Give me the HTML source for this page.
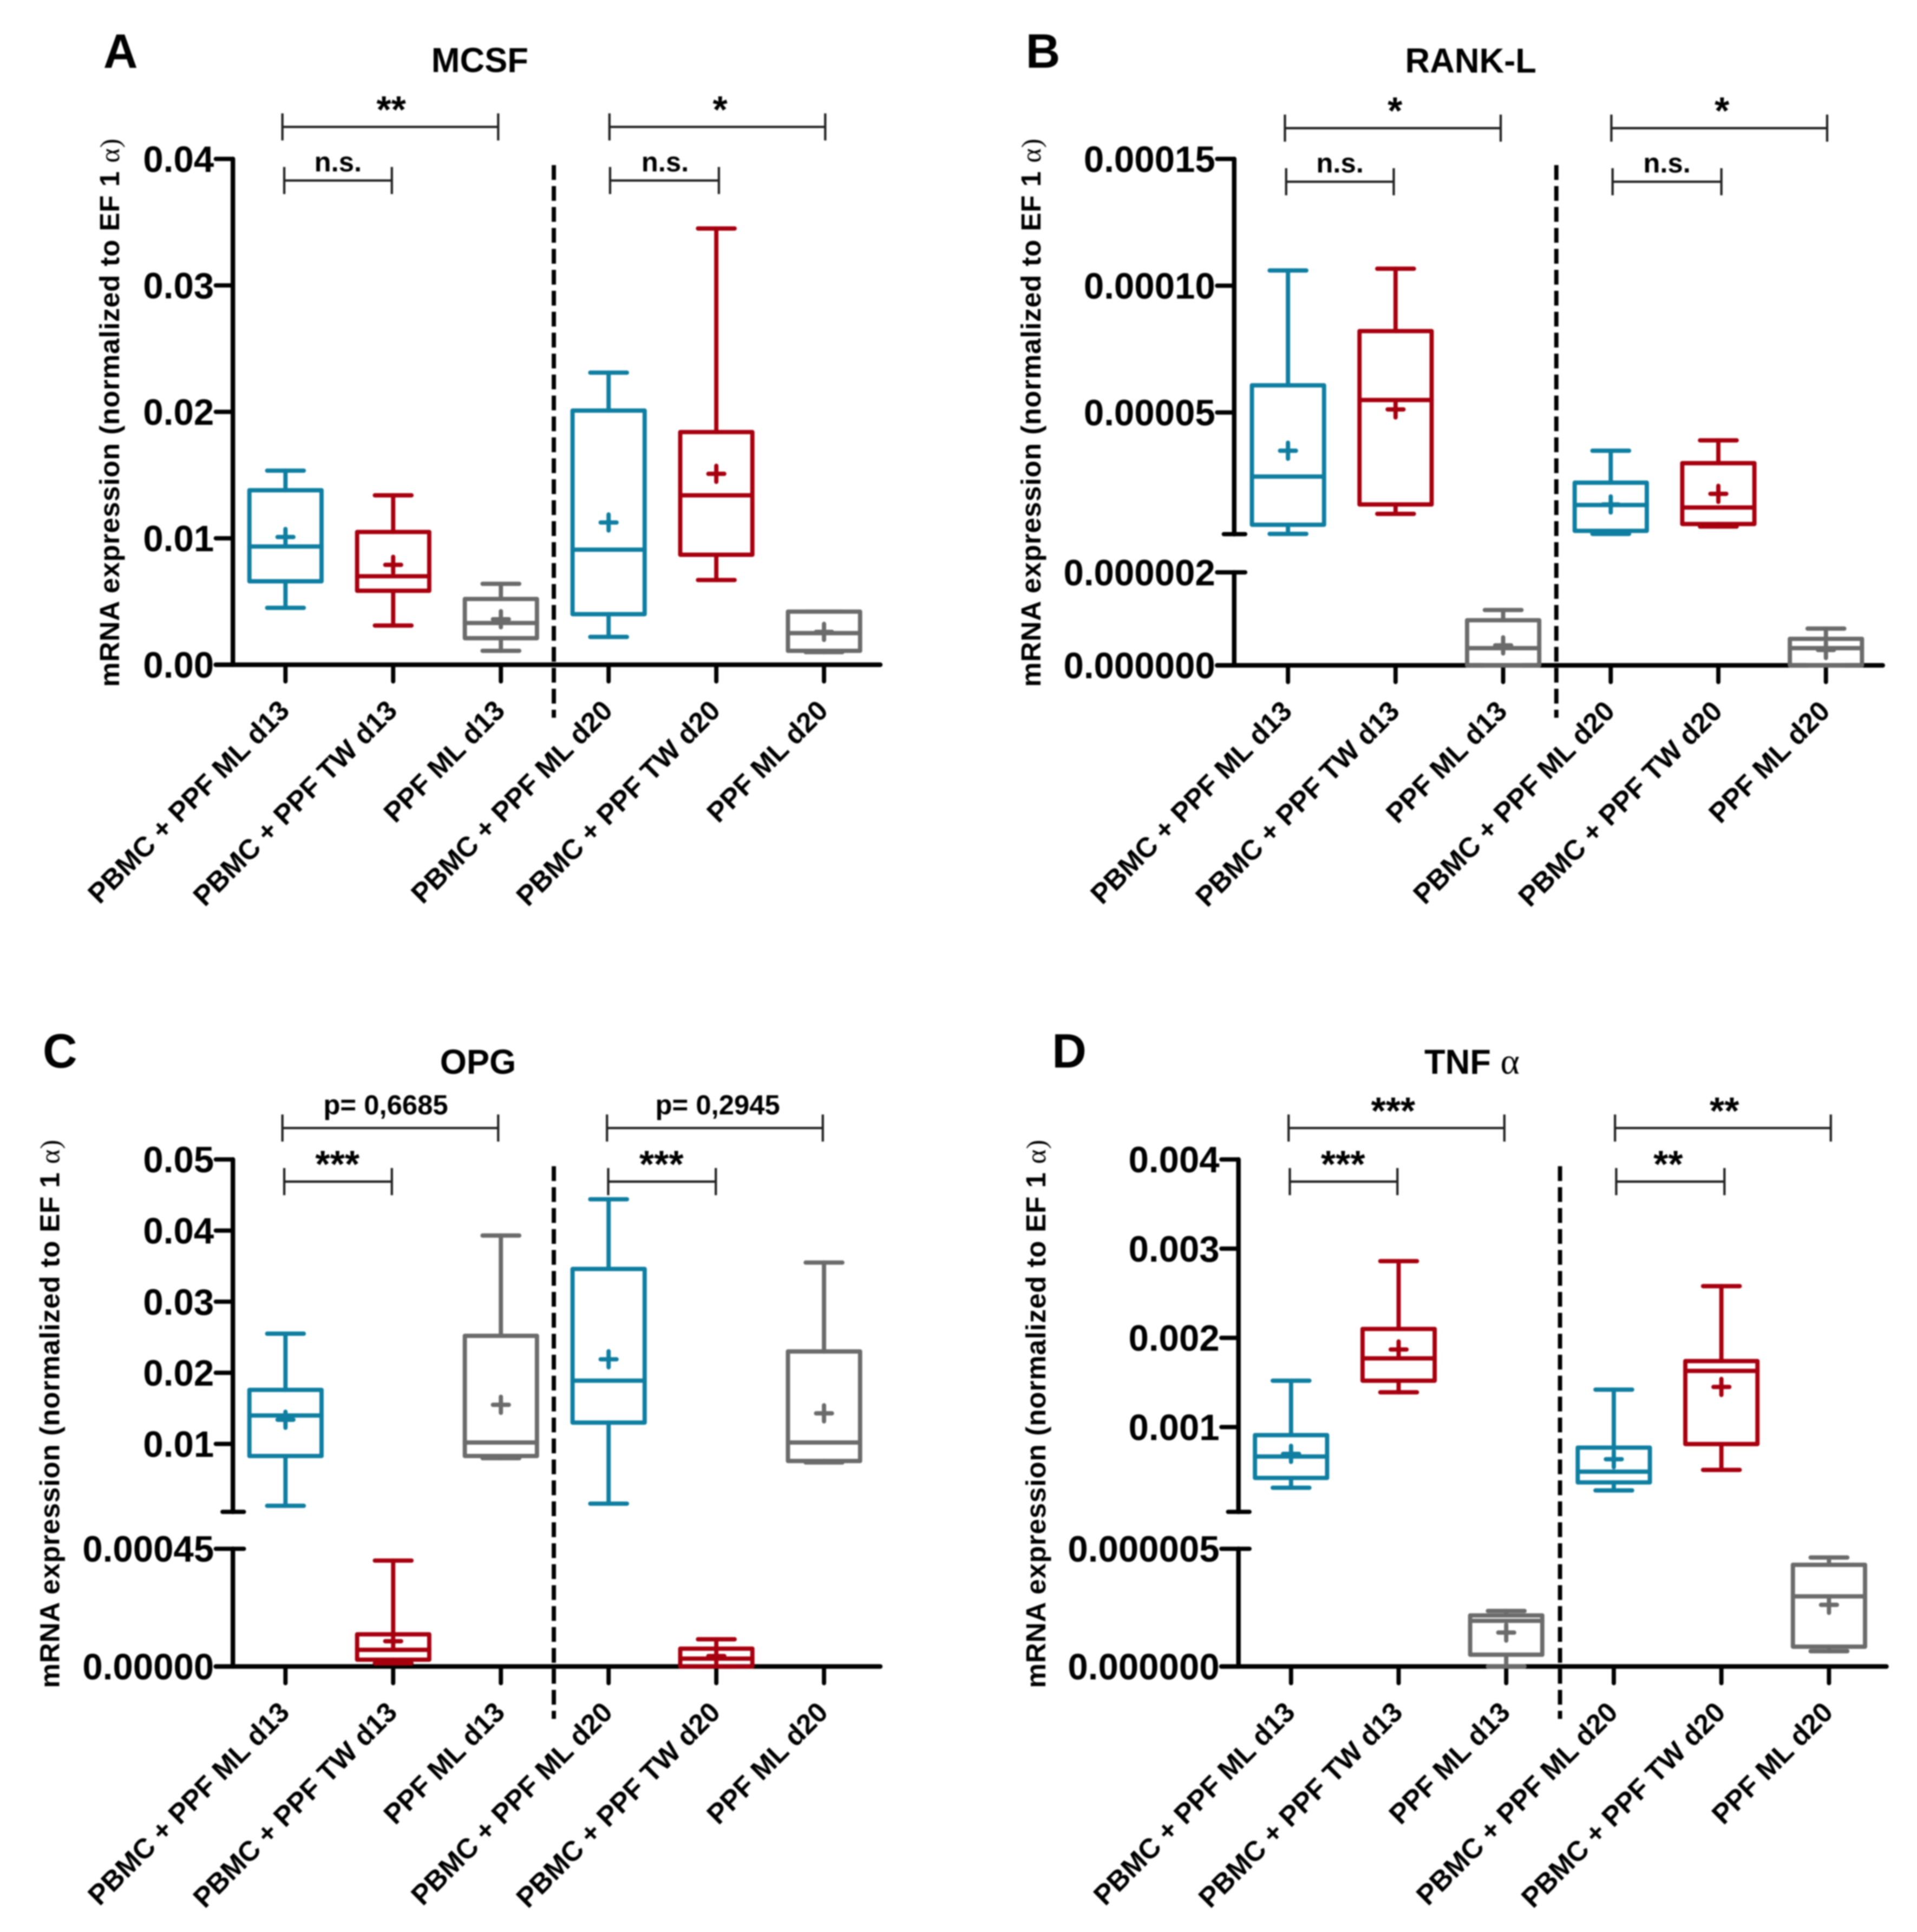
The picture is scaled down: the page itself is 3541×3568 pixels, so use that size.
<!DOCTYPE html>
<html lang="en">
<head>
<meta charset="utf-8">
<title>mRNA expression box plots</title>
<style>
html,body{margin:0;padding:0;background:#fff}
svg{display:block;width:3541px;height:3568px;filter:blur(1.2px)}
text{font-family:"Liberation Sans",sans-serif;font-weight:bold;fill:#000}
.alpha{font-family:"Liberation Serif",serif;font-weight:normal}
</style>
</head>
<body>
<svg id="figure" xmlns="http://www.w3.org/2000/svg" viewBox="0 0 3136 3136" preserveAspectRatio="none"></svg>
<script>
const categories = ['PBMC + PPF ML d13','PBMC + PPF TW d13','PPF ML d13','PBMC + PPF ML d20','PBMC + PPF TW d20','PPF ML d20'];
const seriesColors = ['#0f7ea0','#a6000f','#6b6b6b','#0f7ea0','#a6000f','#6b6b6b'];

const mcsfHigh   = [0.01535,0.0134,0.0064,0.0231,0.0345,0.0042];
const mcsfQ3     = [0.0138,0.0105,0.0052,0.0201,0.0184,0.0042];
const mcsfMedian = [0.00935,0.0070,0.0033,0.0091,0.0134,0.0025];
const mcsfQ1     = [0.0066,0.00585,0.0021,0.0040,0.0087,0.0011];
const mcsfLow    = [0.0045,0.0031,0.0011,0.0022,0.0067,0.0010];
const mcsfMean   = [0.0101,0.0079,0.0036,0.01125,0.0151,0.0026];
const mcsfTicks  = [0,0.01,0.02,0.03,0.04];
const mcsfTickLabels = ['0.00','0.01','0.02','0.03','0.04'];

const ranklHigh   = [0.000106,0.0001067,0.00000119,0.0000349,0.000039,0.00000079];
const ranklQ3     = [0.0000607,0.0000821,0.00000097,0.0000223,0.00003,0.00000057];
const ranklMedian = [0.0000247,0.0000549,0.00000037,0.0000135,0.0000125,0.00000037];
const ranklQ1     = [0.0000057,0.0000137,0,0.0000033,0.000006,0];
const ranklLow    = [0.0000021,0.00001,0,0.0000021,0.000005,0];
const ranklMean   = [0.0000349,0.0000512,0.00000043,0.0000137,0.0000179,0.00000033];
const ranklTicks  = [0,0.000002,0.00005,0.0001,0.00015];
const ranklTickLabels = ['0.000000','0.000002','0.00005','0.00010','0.00015'];

const opgHigh   = [0.0255,0.000405,0.0393,0.0444,0.000104,0.0355];
const opgQ3     = [0.0176,0.000123,0.0252,0.0346,0.000068,0.023];
const opgMedian = [0.014,0.0000636,0.0102,0.0189,0.00003,0.0102];
const opgQ1     = [0.0083,0.000026,0.0083,0.013,0,0.0076];
const opgLow    = [0.0013,0.000012,0.008,0.0016,0,0.0074];
const opgMean   = [0.0134,0.0000966,0.0155,0.0219,0.00004,0.0143];
const opgTicks  = [0,0.00045,0.01,0.02,0.03,0.04,0.05];
const opgTickLabels = ['0.00000','0.00045','0.01','0.02','0.03','0.04','0.05'];

const tnfHigh   = [0.00152,0.00286,0.00000236,0.00142,0.00258,0.00000463];
const tnfQ3     = [0.00091,0.0021,0.00000217,0.00077,0.00174,0.00000432];
const tnfMedian = [0.00067,0.00177,0.00000194,0.0005,0.00163,0.00000298];
const tnfQ1     = [0.00043,0.00152,0.0000005,0.00038,0.00081,0.00000084];
const tnfLow    = [0.00032,0.00139,0,0.00029,0.00052,0.00000065];
const tnfMean   = [0.0007,0.00187,0.00000144,0.00064,0.00145,0.00000262];
const tnfTicks  = [0,0.000005,0.001,0.002,0.003,0.004];
const tnfTickLabels = ['0.000000','0.000005','0.001','0.002','0.003','0.004'];

const panels = [
 {id:'a',ox:0,oy:0,letter:'A',lx:169,ly:110,title:'MCSF',tx:785,ty:117,alpha:false,axisX:381,xEnd:1440,cat0:467,step:176.2,
  segs:[{d:[0,0.04],r:[1079,258]}],
  hi:mcsfHigh,q3:mcsfQ3,med:mcsfMedian,q1:mcsfQ1,lo:mcsfLow,mean:mcsfMean,ticks:mcsfTicks,labels:mcsfTickLabels,
  yTitleX:195,yTitleBottom:1115,dashX:906,dash:[268,1165],
  brackets:[[462,815,206,'**',640,-7],[997,1350,206,'*',1178,-7],[465,641,293,'n.s.',553,-15],[998,1176,293,'n.s.',1088,-15]]},
 {id:'b',ox:1568,oy:0,letter:'B',lx:110,ly:110,title:'RANK-L',tx:838,ty:118,alpha:false,axisX:451,xEnd:1512,cat0:539,step:176,
  segs:[{d:[0,0.000002],r:[1080,929]},{d:[0.000002,0.00015],r:[867,258]}],
  hi:ranklHigh,q3:ranklQ3,med:ranklMedian,q1:ranklQ1,lo:ranklLow,mean:ranklMean,ticks:ranklTicks,labels:ranklTickLabels,
  yTitleX:134,yTitleBottom:1115,dashX:978,dash:[268,1165],
  brackets:[[534,887,208,'*',714,-7],[1068,1421,208,'*',1249,-7],[536,712,295,'n.s.',624,-15],[1070,1248,295,'n.s.',1159,-15]]},
 {id:'c',ox:0,oy:1568,letter:'C',lx:70,ly:165,title:'OPG',tx:782,ty:175,alpha:false,axisX:381,xEnd:1440,cat0:467,step:176.2,
  segs:[{d:[0,0.00045],r:[1137,946]},{d:[0.00045,0.05],r:[886,314]}],
  hi:opgHigh,q3:opgQ3,med:opgMedian,q1:opgQ1,lo:opgLow,mean:opgMean,ticks:opgTicks,labels:opgTickLabels,
  yTitleX:97,yTitleBottom:1172,dashX:906,dash:[325,1222],
  brackets:[[462,815,263,'p= 0,6685',631,-22],[993,1346,263,'p= 0,2945',1174,-22],[465,641,350,'***',552,-7],[995,1171,350,'***',1082,-7]]},
 {id:'d',ox:1568,oy:1568,letter:'D',lx:153,ly:165,title:'TNF ',tx:840,ty:175,alpha:true,axisX:458,xEnd:1518,cat0:544,step:176,
  segs:[{d:[0,0.000005],r:[1137,946]},{d:[0.00005,0.004],r:[886,314]}],
  hi:tnfHigh,q3:tnfQ3,med:tnfMedian,q1:tnfQ1,lo:tnfLow,mean:tnfMean,ticks:tnfTicks,labels:tnfTickLabels,
  yTitleX:142,yTitleBottom:1172,dashX:984,dash:[325,1222],
  brackets:[[540,893,263,'***',711,-7],[1074,1427,263,'**',1253,-7],[542,718,350,'***',629,-7],[1076,1253,350,'**',1161,-7]]}
];

const NS = 'http://www.w3.org/2000/svg';
const root = document.getElementById('figure');
function mk(tag, parent, attrs){
  const e = document.createElementNS(NS, tag);
  for (const k in attrs) e.setAttribute(k, attrs[k]);
  parent.appendChild(e);
  return e;
}
function seg(p, a, x1, y1, x2, y2, color, w, extra){
  return mk('line', a, Object.assign({x1:x1,y1:y1,x2:x2,y2:y2,stroke:color,'stroke-width':w,'stroke-linecap':'round'}, extra||{}));
}
function yScale(p, v){
  let s = p.segs[p.segs.length-1];
  for (const c of p.segs){ if (v <= c.d[1]) { s = c; break; } }
  const t = (v - s.d[0])/(s.d[1]-s.d[0]);
  return s.r[0] + t*(s.r[1]-s.r[0]);
}
function xScale(p, i){ return p.cat0 + i*p.step; }

panels.forEach(function(p){
  const g = mk('g', root, {transform:'translate('+p.ox+','+p.oy+')'});
  
  

  const letter = mk('text', g, {x:p.lx,y:p.ly,'font-size':78});
  letter.textContent = p.letter;
  
  

  const title = mk('text', g, {x:p.tx,y:p.ty,'font-size':56,'text-anchor':'middle'});
  title.textContent = p.title;
  
  
  if (p.alpha){
    const ta = mk('tspan', title, {'class':'alpha','font-size':60});
    ta.textContent = 'α';
  }

  const yt = mk('text', g, {transform:'translate('+p.yTitleX+','+p.yTitleBottom+') rotate(-90)','font-size':45,textLength:890,lengthAdjust:'spacing'});
  yt.textContent = 'mRNA expression (normalized to EF 1 ';
  
  
  const ya = mk('tspan', yt, {'class':'alpha'});
  ya.textContent = 'α)';

  const axes = mk('g', g, {});
  
  
  p.segs.forEach(function(s, si){
    const yl = seg(p, axes, p.axisX, s.r[0], p.axisX, s.r[1], '#000', 7.5);
    
    
    if (p.segs.length > 1 && si === 1){
      const brk = seg(p, axes, p.axisX-17, s.r[0], p.axisX+18, s.r[0], '#000', 7);
      
      
    }
    if (p.segs.length > 1 && si === 0){
      const brk2 = seg(p, axes, p.axisX, s.r[1], p.axisX+18, s.r[1], '#000', 7);
      
      
    }
  });
  const y0 = yScale(p, 0);
  const xl = seg(p, axes, p.axisX-28, y0, p.xEnd, y0, '#000', 7.5);
  
  

  p.ticks.forEach(function(v, i){
    const y = yScale(p, v);
    const t = seg(p, axes, p.axisX-28, y, p.axisX, y, '#000', 7);
    
    
    const l = mk('text', axes, {x:p.axisX-31,y:y+21,'font-size':59.5,'text-anchor':'end'});
    l.textContent = p.labels[i];
    
    
  });

  categories.forEach(function(c, i){
    const x = xScale(p, i);
    const t = seg(p, axes, x, y0, x, y0+27, '#000', 7);
    
    
    const l = mk('text', axes, {transform:'translate('+(x+9)+','+(y0+77)+') rotate(-45)','font-size':45.5,'text-anchor':'end'});
    l.textContent = c;
    
    
  });

  categories.forEach(function(c, i){
    const x = xScale(p, i);
    const col = seriesColors[i];
    const w = 7;
    const bg = mk('g', g, {});
    
    
    const yHi = yScale(p, p.hi[i]), yQ3 = yScale(p, p.q3[i]), yMed = yScale(p, p.med[i]), yQ1 = yScale(p, p.q1[i]), yLo = yScale(p, p.lo[i]), yMean = yScale(p, p.mean[i]);
    const wu = seg(p, bg, x, yHi, x, yQ3, col, w);
    
    
    const wl = seg(p, bg, x, yQ1, x, yLo, col, w);
    
    
    const cu = seg(p, bg, x-30, yHi, x+30, yHi, col, w);
    
    
    const cl = seg(p, bg, x-30, yLo, x+30, yLo, col, w);
    
    
    const r = mk('rect', bg, {x:x-59,y:yQ3,width:118,height:yQ1-yQ3,fill:'none',stroke:col,'stroke-width':w,'stroke-linejoin':'round'});
    
    
    const m = seg(p, bg, x-59, yMed, x+59, yMed, col, w);
    
    
    const mh = seg(p, bg, x-13, yMean, x+13, yMean, col, 7);
    
    
    const mv = seg(p, bg, x, yMean-13, x, yMean+13, col, 7);
    
    
  });

  const dl = mk('line', g, {x1:p.dashX,y1:p.dash[0],x2:p.dashX,y2:p.dash[1],stroke:'#000','stroke-width':7,'stroke-dasharray':'24 10'});
  
  

  p.brackets.forEach(function(b){
    const bk = mk('g', g, {});
    
    
    const h = mk('line', bk, {x1:b[0],y1:b[2],x2:b[1],y2:b[2],stroke:'#222','stroke-width':3.8});
    
    
    const e1 = mk('line', bk, {x1:b[0],y1:b[2]-22,x2:b[0],y2:b[2]+22,stroke:'#222','stroke-width':3.8});
    
    
    const e2 = mk('line', bk, {x1:b[1],y1:b[2]-22,x2:b[1],y2:b[2]+22,stroke:'#222','stroke-width':3.8});
    
    
    const star = b[3].indexOf('*') === 0;
    const tx = mk('text', bk, {x:b[4],y:b[2]+b[5],'font-size':star?62:45,'text-anchor':'middle'});
    tx.textContent = b[3];
    
    
  });
});
</script>
</body>
</html>
